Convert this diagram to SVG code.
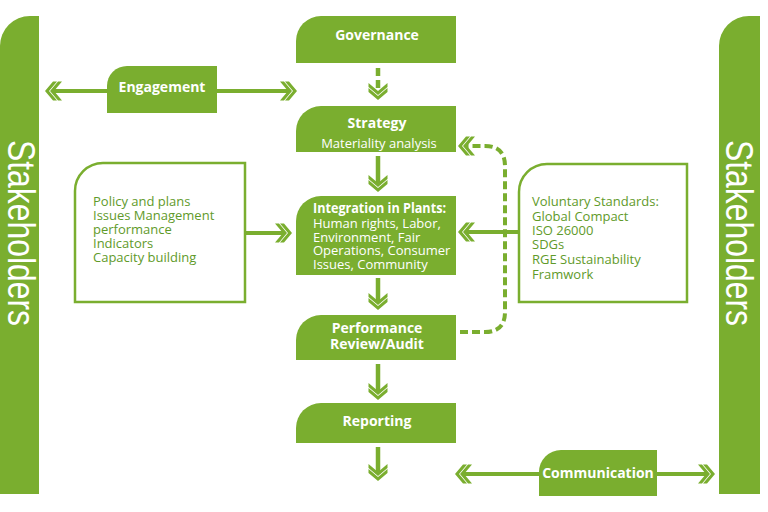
<svg xmlns="http://www.w3.org/2000/svg" width="768" height="512" viewBox="0 0 768 512">
<style>
.fill{fill:#7aae2f}
.box{fill:#ffffff;stroke:#7aae2f;stroke-width:2.5}
.tb{font-family:"Open Sans","Noto Sans",sans-serif;font-weight:bold;font-size:14px;fill:#ffffff;text-anchor:middle}
.tbl{font-family:"Open Sans","Noto Sans",sans-serif;font-weight:bold;font-size:13.5px;fill:#ffffff}
.tr{font-family:"Open Sans","Noto Sans",sans-serif;font-size:13px;fill:#ffffff}
.tg{font-family:"Open Sans","Noto Sans",sans-serif;font-size:13px;fill:#5f9a2a}
.sh{font-family:"Liberation Sans",Arial,sans-serif;font-size:38px;fill:#ffffff}
.c{fill:none;stroke:#7aae2f;stroke-width:4.5;marker-end:url(#chev)}
.h{fill:none;stroke:#7aae2f;stroke-width:4;marker-end:url(#chev)}
.hb{fill:none;stroke:#7aae2f;stroke-width:4;marker-start:url(#chev);marker-end:url(#chev)}
.d{stroke-dasharray:8 4}
</style>
<defs>
<marker id="chev" markerUnits="userSpaceOnUse" viewBox="-18 -10 19 20" markerWidth="19" markerHeight="20" refX="-7" refY="0" orient="auto-start-reverse">
<polygon fill="#7aae2f" points="0,0 -8,-9.5 -12,-9.5 -4,0 -12,9.5 -8,9.5"/>
<polygon fill="#7aae2f" points="-5,0 -13,-9.5 -17,-9.5 -9,0 -17,9.5 -13,9.5"/>
</marker>
</defs>
<g id="connectors">
<line class="c d" x1="378" y1="68" x2="378" y2="93"/>
<line class="c" x1="378" y1="156" x2="378" y2="185"/>
<line class="c" x1="378" y1="278" x2="378" y2="303"/>
<line class="c" x1="378" y1="364" x2="378" y2="393"/>
<line class="c" x1="378" y1="447" x2="378" y2="474"/>
<line class="hb" x1="52" y1="91" x2="290" y2="91"/>
<line class="hb" x1="462" y1="474" x2="708" y2="474"/>
<line class="h" x1="245" y1="233" x2="285" y2="233"/>
<line class="h" x1="518" y1="232" x2="465" y2="232"/>
<path class="h d" d="M460,332 H485 Q505,332 505,312 V166 Q505,146 485,146 H465"/>
</g>
<g id="stakeholders-left">
<path class="fill" d="M0,494 V46 A30,30 0 0 1 30,16 H39 V494 Z"/>
<text class="sh" transform="translate(8,140) rotate(90)" textLength="186" lengthAdjust="spacingAndGlyphs">Stakeholders</text>
</g>
<g id="stakeholders-right">
<path class="fill" d="M719,494 V46 A30,30 0 0 1 749,16 H760 V494 Z"/>
<text class="sh" transform="translate(726,140) rotate(90)" textLength="186" lengthAdjust="spacingAndGlyphs">Stakeholders</text>
</g>
<g id="governance">
<path class="fill" d="M296,63 V41 A25,25 0 0 1 321,16 H456 V63 Z"/>
<text class="tb" x="377" y="40">Governance</text>
</g>
<g id="engagement">
<path class="fill" d="M107,113 V86 A20,20 0 0 1 127,66 H217 V113 Z"/>
<text class="tb" x="162" y="92">Engagement</text>
</g>
<g id="strategy">
<path class="fill" d="M296,152 V131 A25,25 0 0 1 321,106 H456 V152 Z"/>
<text class="tb" x="377" y="128">Strategy</text>
<text class="tr" x="379" y="148" text-anchor="middle">Materiality analysis</text>
</g>
<g id="integration">
<path class="fill" d="M296,275 V221 A25,25 0 0 1 321,196 H456 V275 Z"/>
<text class="tbl" x="313" y="213" textLength="133" lengthAdjust="spacingAndGlyphs">Integration in Plants:</text>
<text class="tr" x="313" y="228">Human rights, Labor,</text>
<text class="tr" x="313" y="241.5">Environment, Fair</text>
<text class="tr" x="313" y="255">Operations, Consumer</text>
<text class="tr" x="313" y="268.5">Issues, Community</text>
</g>
<g id="performance">
<path class="fill" d="M296,360 V340 A25,25 0 0 1 321,315 H456 V360 Z"/>
<text class="tb" x="377" y="333">Performance</text>
<text class="tb" x="377" y="349">Review/Audit</text>
</g>
<g id="reporting">
<path class="fill" d="M296,443 V428 A25,25 0 0 1 321,403 H456 V443 Z"/>
<text class="tb" x="377" y="426">Reporting</text>
</g>
<g id="communication">
<path class="fill" d="M539,496 V472 A22,22 0 0 1 561,450 H657 V496 Z"/>
<text class="tb" x="598" y="478">Communication</text>
</g>
<g id="policy-box">
<path class="box" d="M75,302 V191 A28,28 0 0 1 103,163 H245 V302 Z"/>
<text class="tg" x="93" y="206">Policy and plans</text>
<text class="tg" x="93" y="220">Issues Management</text>
<text class="tg" x="93" y="234">performance</text>
<text class="tg" x="93" y="248">Indicators</text>
<text class="tg" x="93" y="262">Capacity building</text>
</g>
<g id="standards-box">
<path class="box" d="M519,302 V192 A28,28 0 0 1 547,164 H687 V302 Z"/>
<text class="tg" x="532" y="206">Voluntary Standards:</text>
<text class="tg" x="532" y="221">Global Compact</text>
<text class="tg" x="532" y="235">ISO 26000</text>
<text class="tg" x="532" y="249">SDGs</text>
<text class="tg" x="532" y="264">RGE  Sustainability</text>
<text class="tg" x="532" y="279">Framwork</text>
</g>
</svg>
